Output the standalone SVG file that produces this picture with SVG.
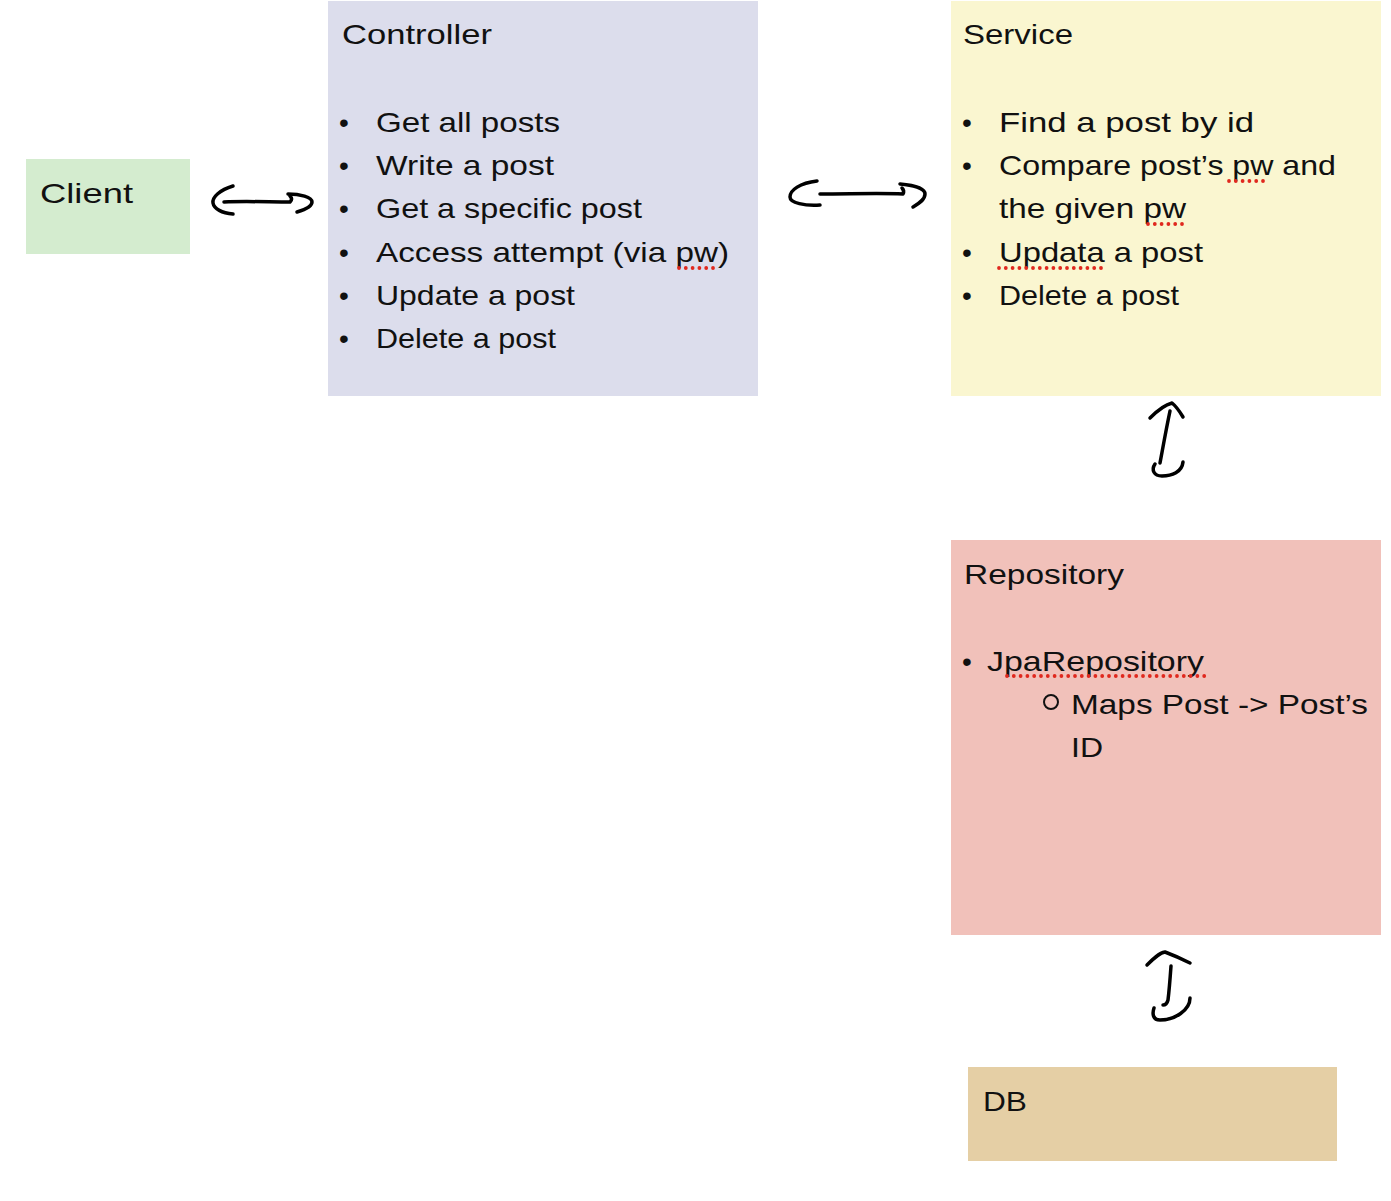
<svg xmlns="http://www.w3.org/2000/svg" width="1391" height="1201" viewBox="0 0 1391 1201">
<style>
  text { font-family: "Liberation Sans", "DejaVu Sans", sans-serif; font-size: 28px; fill: #111; }
  .sq { stroke: #e0281e; stroke-width: 3.8; stroke-linecap: round; stroke-dasharray: 0 6.8; fill: none; }
  .arr { fill: none; stroke: #000; stroke-width: 3.5; stroke-linecap: round; stroke-linejoin: round; }
</style>
<rect width="1391" height="1201" fill="#ffffff"/>

<g id="client">
  <rect x="26" y="159" width="164" height="95" fill="#d4eccf"/>
  <text x="40" y="203" textLength="93" lengthAdjust="spacingAndGlyphs">Client</text>
</g>

<g id="controller">
  <rect x="328" y="1" width="430" height="395" fill="#dcddec"/>
  <text x="342" y="44" textLength="150" lengthAdjust="spacingAndGlyphs">Controller</text>
  <text x="339" y="132">•</text>
  <text x="376" y="132" textLength="184" lengthAdjust="spacingAndGlyphs">Get all posts</text>
  <text x="339" y="175">•</text>
  <text x="376" y="175" textLength="178" lengthAdjust="spacingAndGlyphs">Write a post</text>
  <text x="339" y="218">•</text>
  <text x="376" y="218" textLength="266" lengthAdjust="spacingAndGlyphs">Get a specific post</text>
  <text x="339" y="262">•</text>
  <text x="376" y="262" textLength="353" lengthAdjust="spacingAndGlyphs">Access attempt (via pw)</text>
  <text x="339" y="305">•</text>
  <text x="376" y="305" textLength="199" lengthAdjust="spacingAndGlyphs">Update a post</text>
  <text x="339" y="348">•</text>
  <text x="376" y="348" textLength="180" lengthAdjust="spacingAndGlyphs">Delete a post</text>
  <line class="sq" x1="679" y1="268" x2="714" y2="268"/>
</g>

<g id="service">
  <rect x="951" y="1" width="430" height="395" fill="#faf6d0"/>
  <text x="963" y="44" textLength="110" lengthAdjust="spacingAndGlyphs">Service</text>
  <text x="962" y="132">•</text>
  <text x="999" y="132" textLength="255" lengthAdjust="spacingAndGlyphs">Find a post by id</text>
  <text x="962" y="175">•</text>
  <text x="999" y="175" textLength="337" lengthAdjust="spacingAndGlyphs">Compare post’s pw and</text>
  <text x="999" y="218" textLength="187" lengthAdjust="spacingAndGlyphs">the given pw</text>
  <text x="962" y="262">•</text>
  <text x="999" y="262" textLength="204" lengthAdjust="spacingAndGlyphs">Updata a post</text>
  <text x="962" y="305">•</text>
  <text x="999" y="305" textLength="180" lengthAdjust="spacingAndGlyphs">Delete a post</text>
  <line class="sq" x1="1229" y1="181" x2="1264" y2="181"/>
  <line class="sq" x1="1148" y1="224" x2="1183" y2="224"/>
  <line class="sq" x1="999" y1="268" x2="1103" y2="268"/>
</g>

<g id="repository">
  <rect x="951" y="540" width="430" height="395" fill="#f1c1ba"/>
  <text x="964" y="584" textLength="160" lengthAdjust="spacingAndGlyphs">Repository</text>
  <text x="962" y="671">•</text>
  <text x="987" y="671" textLength="217" lengthAdjust="spacingAndGlyphs">JpaRepository</text>
  <circle cx="1051" cy="702" r="7" fill="none" stroke="#111" stroke-width="2"/>
  <text x="1071" y="714" textLength="297" lengthAdjust="spacingAndGlyphs">Maps Post -&gt; Post’s</text>
  <text x="1071" y="757" textLength="32" lengthAdjust="spacingAndGlyphs">ID</text>
  <line class="sq" x1="1007" y1="676" x2="1205" y2="676"/>
</g>

<g id="db">
  <rect x="968" y="1067" width="369" height="94" fill="#e5cfa5"/>
  <text x="983" y="1111" textLength="44" lengthAdjust="spacingAndGlyphs">DB</text>
</g>

<g id="connectors">
  <!-- Client <-> Controller -->
  <path class="arr" d="M233,186 C220,190 212,197 213,203 C214,209 222,213 233,214"/>
  <path class="arr" d="M224,202 C245,201 270,202 290,202 C292,200 292,198 290,196"/>
  <path class="arr" d="M288,194 C300,194 312,197 312,202 C312,207 304,210 297,212"/>
  <!-- Controller <-> Service -->
  <path class="arr" d="M817,181 C800,183 790,190 790,197 C790,203 805,206 820,205"/>
  <path class="arr" d="M820,194 C850,194 880,193 903,194 C904,192 904,190 902,188"/>
  <path class="arr" d="M900,184 C912,185 925,188 925,194 C925,200 918,204 913,207"/>
  <!-- Service <-> Repository -->
  <path class="arr" d="M1150,418 C1157,411 1164,405 1172,403 C1177,407 1180,412 1183,417"/>
  <path class="arr" d="M1170,411 C1166,430 1163,447 1160,463"/>
  <path class="arr" d="M1155,464 C1151,470 1154,476 1162,476 C1172,476 1182,472 1183,462"/>
  <!-- Repository <-> DB -->
  <path class="arr" d="M1147,965 C1153,959 1159,953 1165,952 C1173,955 1182,959 1190,963"/>
  <path class="arr" d="M1171,966 C1170,980 1169,992 1168,1000 C1167,1004 1165,1005 1163,1005"/>
  <path class="arr" d="M1154,1008 C1152,1014 1153,1020 1160,1020 C1175,1020 1190,1010 1190,998"/>
</g>
</svg>
